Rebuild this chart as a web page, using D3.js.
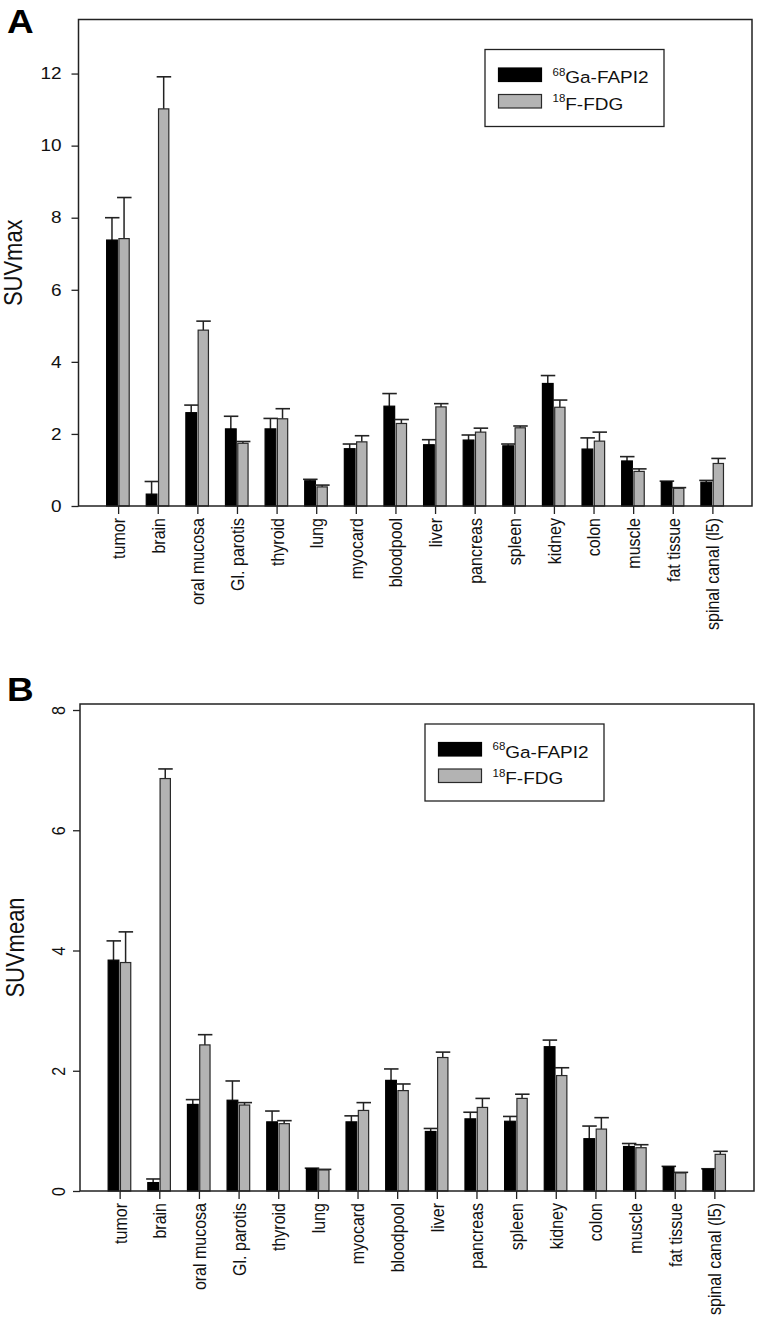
<!DOCTYPE html>
<html><head><meta charset="utf-8">
<script src="https://cdn.jsdelivr.net/npm/d3@7"></script>
<style>
html,body{margin:0;padding:0;background:#fff;}
svg text{font-family:Arial,"Liberation Sans",sans-serif;fill:#111;}
</style></head>
<body><svg id="c" width="757" height="1343"></svg>
<script>
const categories = ["tumor","brain","oral mucosa","Gl. parotis","thyroid","lung","myocard","bloodpool","liver","pancreas","spleen","kidney","colon","muscle","fat tissue","spinal canal (l5)"];
const seriesNames = ["Ga-FAPI2","F-FDG"];
const seriesSup = ["68","18"];

// Panel A: SUVmax
const fapiMax    = [7.38,0.33,2.59,2.14,2.14,0.70,1.59,2.77,1.70,1.83,1.67,3.40,1.58,1.25,0.67,0.66];
const fapiMaxErr = [0.62,0.35,0.21,0.35,0.29,0.04,0.13,0.35,0.14,0.14,0.05,0.22,0.31,0.12,0.02,0.05];
const fdgMax     = [7.42,11.02,4.88,1.74,2.42,0.53,1.78,2.29,2.75,2.05,2.17,2.74,1.80,0.96,0.49,1.18];
const fdgMaxErr  = [1.14,0.89,0.25,0.05,0.28,0.05,0.17,0.11,0.09,0.11,0.05,0.20,0.25,0.07,0.02,0.14];
const ticksA = [0,2,4,6,8,10,12];

// Panel B: SUVmean
const fapiMean    = [3.84,0.14,1.44,1.51,1.15,0.37,1.15,1.84,0.99,1.20,1.16,2.40,0.87,0.74,0.40,0.36];
const fapiMeanErr = [0.32,0.06,0.08,0.32,0.18,0.01,0.10,0.19,0.05,0.11,0.08,0.11,0.21,0.05,0.01,0.01];
const fdgMean     = [3.80,6.86,2.43,1.43,1.12,0.35,1.34,1.67,2.22,1.39,1.54,1.92,1.03,0.72,0.30,0.61];
const fdgMeanErr  = [0.51,0.16,0.17,0.04,0.05,0.01,0.13,0.11,0.09,0.15,0.07,0.13,0.19,0.05,0.01,0.05];
const ticksB = [0,2,4,6,8];

const svg = d3.select("#c");
const FONT = 'Arial,"Liberation Sans",sans-serif';
const SX = 1.15; // horizontal stretch of the original figure's lettering

function panel(opt){
  const g = svg.append("g");
  const x = d3.scaleLinear().domain([0, categories.length+1]).range([opt.left, opt.right]);
  const y = d3.scaleLinear().domain([0, opt.ymax]).range([opt.bottom, opt.top]);

  g.append("text").attr("transform",`translate(7,${opt.letterY}) scale(1.12,1)`).text(opt.letter)
    .style("font-size","33px").style("font-weight","bold").style("fill","#000");

  const series = [
    {vals: opt.a, err: opt.aErr, x0: -0.29, x1: -0.02, fill:"#000", stroke:"#000"},
    {vals: opt.b, err: opt.bErr, x0: 0.02, x1: 0.28, fill:"#b3b3b3", stroke:"#2a2a2a"}
  ];
  series.forEach(s=>{
    const cx = (i)=> x(i+1+(s.x0+s.x1)/2);
    g.selectAll(null).data(s.vals).enter().append("line")
      .attr("x1",(d,i)=>cx(i)).attr("x2",(d,i)=>cx(i))
      .attr("y1",d=>y(d)).attr("y2",(d,i)=>y(d+s.err[i]))
      .attr("stroke","#222").attr("stroke-width",1.5);
    g.selectAll(null).data(s.vals).enter().append("line")
      .attr("x1",(d,i)=>cx(i)-7).attr("x2",(d,i)=>cx(i)+7.5)
      .attr("y1",(d,i)=>y(d+s.err[i])).attr("y2",(d,i)=>y(d+s.err[i]))
      .attr("stroke","#222").attr("stroke-width",1.6);
    g.selectAll(null).data(s.vals).enter().append("rect")
      .attr("x",(d,i)=>x(i+1+s.x0)).attr("width",(d,i)=>x(i+1+s.x1)-x(i+1+s.x0))
      .attr("y",d=>y(d)).attr("height",d=>y(0)-y(d))
      .attr("fill",s.fill).attr("stroke",s.stroke).attr("stroke-width",1.2);
  });

  g.append("rect").attr("x",opt.left).attr("y",opt.top)
    .attr("width",opt.right-opt.left).attr("height",opt.bottom-opt.top)
    .attr("fill","none").attr("stroke","#222").attr("stroke-width",1.5);

  const ya = g.append("g").attr("transform",`translate(${opt.left},0)`)
    .call(d3.axisLeft(y).tickValues(opt.ticks).tickSize(7).tickFormat(d3.format("d")));
  ya.select(".domain").remove();
  ya.selectAll("line").attr("stroke","#222").attr("stroke-width",1.3);
  ya.selectAll("text").style("font-family",FONT).attr("fill","#111");
  if(opt.rotY){
    ya.selectAll("text").style("font-size","16px").attr("text-anchor","middle")
      .attr("x",0).attr("y",0).attr("dy","0.35em")
      .attr("transform",`translate(-21.5,0) scale(${SX},1) rotate(-90)`);
  } else {
    ya.selectAll("text").style("font-size","16.5px").attr("text-anchor","end")
      .attr("x",-17/SX).attr("transform",`scale(${SX},1)`);
  }

  const xa = g.append("g").attr("transform",`translate(0,${opt.bottom})`)
    .call(d3.axisBottom(x).tickValues(d3.range(1,categories.length+1)).tickSize(8).tickFormat(d=>categories[d-1]));
  xa.select(".domain").remove();
  xa.selectAll("line").attr("stroke","#222").attr("stroke-width",1.3);
  xa.selectAll("text").style("font-size","16px").style("font-family",FONT).attr("fill","#111")
    .attr("transform",`scale(${SX},1) rotate(-90)`).attr("text-anchor","end")
    .attr("x",-12).attr("y",0).attr("dy","0.35em");

  g.append("text").attr("transform",`translate(${opt.titleX},${(opt.top+opt.bottom)/2}) scale(${SX},1) rotate(-90)`)
    .attr("text-anchor","middle").style("font-size","22px").text(opt.title);

  const L = opt.legend;
  g.append("rect").attr("x",L.x).attr("y",L.y).attr("width",179).attr("height",77)
    .attr("fill","#fff").attr("stroke","#222").attr("stroke-width",1.3);
  const fills = ["#000","#b3b3b3"], strokes=["#000","#2a2a2a"];
  seriesNames.forEach((nm,k)=>{
    const sy = L.y + 18.5 + k*26.5;
    g.append("rect").attr("x",L.x+13.5).attr("y",sy).attr("width",43).attr("height",13.5)
      .attr("fill",fills[k]).attr("stroke",strokes[k]).attr("stroke-width",1.2);
    const t = g.append("text").attr("transform",`translate(${L.x+67.5},${sy+15}) scale(${SX},1)`)
      .style("font-size","16.5px");
    t.append("tspan").text(seriesSup[k]).style("font-size","10px").attr("dy","-7.5");
    t.append("tspan").text(nm).attr("dy","7.5");
  });
}

panel({letter:"A", letterY:33, left:78.5, right:752, top:19.5, bottom:506, ymax:13.5,
  a:fapiMax, aErr:fapiMaxErr, b:fdgMax, bErr:fdgMaxErr, ticks:ticksA, rotY:false,
  title:"SUVmax", titleX:22, legend:{x:485, y:49.5}});

panel({letter:"B", letterY:701, left:80, right:754, top:704, bottom:1191, ymax:8.1,
  a:fapiMean, aErr:fapiMeanErr, b:fdgMean, bErr:fdgMeanErr, ticks:ticksB, rotY:true,
  title:"SUVmean", titleX:24, legend:{x:425, y:724}});
</script></body></html>
